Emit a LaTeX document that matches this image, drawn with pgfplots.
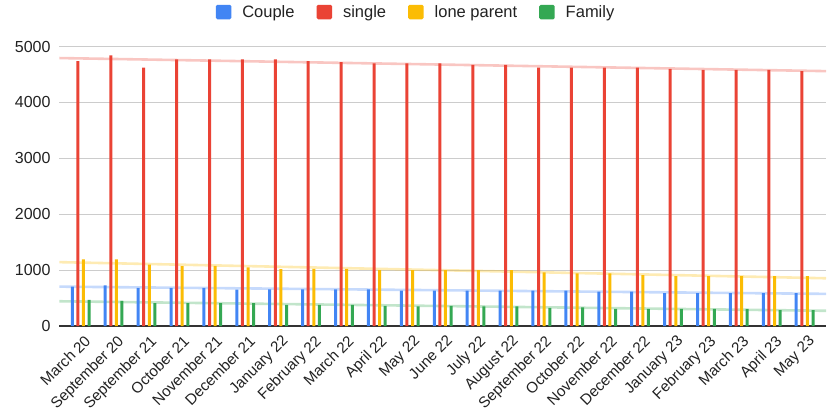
\documentclass[border=0pt]{standalone}
\usepackage{pgfplots}
\usepackage{pgfplotstable}
\pgfplotsset{compat=1.18}
\usepackage{fontspec}
\setmainfont{Liberation Sans}
\definecolor{cblue}{HTML}{4285F4}
\definecolor{cred}{HTML}{EA4335}
\definecolor{cyellow}{HTML}{FBBC04}
\definecolor{cgreen}{HTML}{34A853}
\definecolor{ctext}{HTML}{222222}
\pgfplotstableread{
x blue red yellow green
0 704 4740 1190 467
1 728 4840 1190 450
2 680 4620 1100 408
3 680 4770 1071 408
4 680 4770 1077 408
5 651 4770 1047 408
6 657 4770 1018 379
7 657 4740 1024 379
8 657 4720 1024 379
9 657 4700 1000 361
10 633 4700 1000 349
11 633 4700 1000 361
12 633 4670 1000 349
13 633 4670 1000 349
14 633 4620 959 325
15 633 4620 941 331
16 615 4620 941 308
17 615 4620 911 308
18 586 4600 893 308
19 586 4580 893 308
20 586 4580 893 308
21 586 4580 893 284
22 586 4560 893 284
}\data
\begin{document}
\begin{tikzpicture}
\useasboundingbox (0,0) rectangle (837pt,415pt);
\begin{axis}[
  at={(59.3pt,89pt)}, anchor=south west,
  scale only axis, width=766.7pt, height=279.5pt,
  xmin=-0.65, xmax=22.65, ymin=0, ymax=5000,
  axis x line*=bottom, axis y line*=left,
  y axis line style={draw=none},
  x axis line style={draw=black!80, line width=1.2pt},
  ytick={0,1000,2000,3000,4000,5000},
  xtick={0,...,22},
  xticklabels={March 20,September 20,September 21,October 21,November 21,December 21,January 22,February 22,March 22,April 22,May 22,June 22,July 22,August 22,September 22,October 22,November 22,December 22,January 23,February 23,March 23,April 23,May 23},
  major tick length=0pt,
  ymajorgrids, major grid style={draw=black!20, line width=0.8pt},
  /pgf/number format/1000 sep={},
  /pgf/number format/assume math mode=true,
  tick label style={font=\fontsize{16}{19}\selectfont, text=ctext},
  yticklabel style={anchor=east, inner sep=0pt, xshift=-8.6pt},
  xticklabel style={font=\fontsize{15.2}{18}\selectfont, xshift=3pt, yshift=-8pt, rotate=45, anchor=north east, inner sep=0pt},
  legend style={at={(axis description cs:0.464,1.1234)}, anchor=center, draw=none,
    font=\fontsize{16.5}{19}\selectfont, text=ctext,
    legend columns=4, column sep=0pt,
    /tikz/every odd column/.append style={column sep=11pt},
    /tikz/every even column/.append style={column sep=22pt},
    nodes={inner sep=0pt, anchor=base west}},
  legend cell align=left,
  trend/.style={line width=2.6pt, opacity=0.3, forget plot, shorten <=-21.4pt, shorten >=-21.4pt},
  bars/.style={ybar, bar width=3pt, draw=none, fill=#1,
    legend image code/.code={\fill[#1, rounded corners=1.5pt] (0pt,-1.5pt) rectangle (15.5pt,13pt);}},
]
\addplot[trend, color=cred] table[x=x, y={create col/linear regression={y=red}}] {\data};
\addplot[trend, color=cyellow] table[x=x, y={create col/linear regression={y=yellow}}] {\data};
\addplot[trend, color=cblue] table[x=x, y={create col/linear regression={y=blue}}] {\data};
\addplot[trend, color=cgreen] table[x=x, y={create col/linear regression={y=green}}] {\data};
\addplot[bars=cblue, bar shift=-8.4pt] table[x=x, y=blue] {\data};
\addplot[bars=cred, bar shift=-2.8pt] table[x=x, y=red] {\data};
\addplot[bars=cyellow, bar shift=2.8pt] table[x=x, y=yellow] {\data};
\addplot[bars=cgreen, bar shift=8.4pt] table[x=x, y=green] {\data};
\legend{Couple, single, lone parent, Family}
\end{axis}
\end{tikzpicture}
\end{document}
